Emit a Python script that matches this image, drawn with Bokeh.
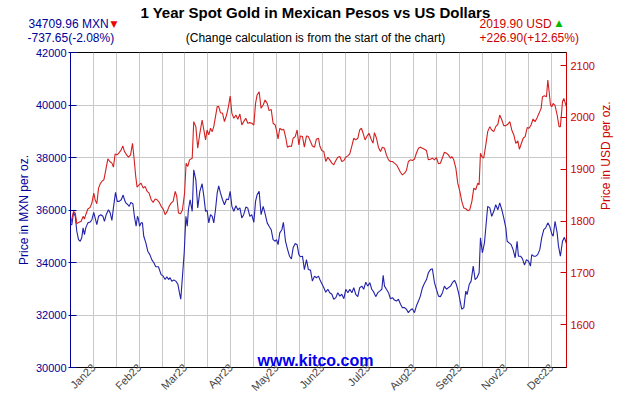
import math
from bokeh.plotting import figure
from bokeh.layouts import column
from bokeh.models import Range1d, FixedTicker, Label, LinearAxis
from bokeh.core.properties import value
from bokeh.embed import file_html
from bokeh.resources import INLINE

# ---- data (trading-day index, price) ----
mxn_day = [0, 0.7, 1.6, 2.5, 3.3, 4.2, 5.1, 5.9, 6.6, 7.3, 8.0, 9.1, 10.3, 11.2, 12.2, 12.9, 13.8, 14.7, 15.9, 17.0,
           17.8, 18.7, 19.9, 20.8, 21.7, 22.5, 23.6, 24.5, 25.5, 26.6, 27.6, 28.3, 29.0, 30.1, 30.8, 31.6, 32.7, 33.5,
           34.4, 35.1, 35.6, 36.2, 37.0, 37.7, 38.4, 39.5, 40.5, 41.6, 42.6, 43.7, 44.7, 46.1, 47.5, 48.6, 49.6, 50.5,
           51.4, 52.2, 53.1, 54.2, 55.2, 56.3, 57.1, 57.8, 58.7, 59.6, 60.5, 61.2, 61.8, 62.7, 63.8, 64.6, 65.7, 66.7,
           67.8, 69.0, 69.9, 70.8, 71.6, 72.5, 73.4, 74.3, 75.1, 76.0, 76.9, 77.7, 78.6, 79.7, 80.7, 81.8, 82.8, 83.7,
           84.6, 85.6, 86.7, 87.7, 88.8, 89.8, 90.8, 91.9, 92.9, 94.0, 95.0, 96.1, 97.0, 97.8, 98.9, 99.9, 101.0, 102.0,
           103.1, 104.1, 105.2, 106.2, 107.3, 108.0, 108.8, 109.7, 110.8, 111.6, 112.7, 113.7, 114.8, 115.8, 116.7,
           117.8, 118.8, 119.7, 120.5, 121.6, 122.6, 123.7, 124.7, 125.8, 126.8, 127.9, 128.9, 130.0, 130.7, 131.7,
           132.8, 133.8, 134.9, 135.9, 137.0, 138.0, 139.1, 140.1, 141.2, 142.2, 143.3, 144.3, 145.4, 146.4, 147.5,
           148.5, 149.5, 150.6, 151.6, 152.7, 153.7, 154.8, 155.8, 156.9, 157.9, 159.0, 160.0, 161.1, 162.1, 163.2,
           163.9, 164.6, 165.6, 166.7, 167.7, 168.8, 169.8, 170.9, 171.9, 173.0, 174.0, 175.1, 176.1, 177.1, 178.2,
           179.2, 180.3, 181.3, 182.4, 183.4, 184.5, 185.5, 186.6, 187.6, 188.7, 189.7, 190.8, 191.8, 192.9, 193.9,
           195.0, 196.0, 197.1, 198.1, 199.2, 200.2, 201.3, 202.3, 203.4, 204.4, 205.1, 206.2, 207.2, 207.9, 209.0,
           210.0, 211.1, 212.1, 213.1, 214.2, 214.9, 215.9, 217.0, 218.0, 218.7, 219.8, 220.8, 221.9, 222.9, 224.0,
           225.0, 226.1, 227.1, 228.2, 228.9, 229.9, 231.0, 232.0, 233.1, 234.1, 234.8, 235.9, 236.9, 238.0, 239.0,
           240.1, 241.1, 241.8, 242.8, 243.9, 244.9, 246.0, 247.0, 248.1, 249.1, 250.2, 251.2, 252.3, 253.0, 254.0,
           255.1, 255.8, 256.8, 257.9, 258.9, 260.0]
mxn_price = [35448, 35440, 35910, 35760, 35190, 34870, 34810, 34940, 35320, 35060, 35320, 35510, 35540, 35630, 35910,
             35700, 35440, 35760, 35820, 35760, 35570, 35820, 36010, 35890, 35600, 36080, 36670, 36330, 36330, 36390,
             36570, 36390, 36270, 36200, 36140, 36290, 36240, 35760, 35380, 35760, 35660, 35380, 35510, 35510, 35000,
             34750, 34430, 34300, 34110, 33990, 33840, 33840, 33540, 33480, 33350, 33460, 33350, 33420, 33290, 33330,
             33290, 33170, 32850, 32600, 33480, 34370, 35760, 35380, 36010, 36390, 35950, 37530, 37150, 36080, 36710,
             37000, 36520, 35950, 35990, 35510, 35820, 35760, 35510, 36010, 36650, 36920, 36650, 36390, 36200, 36420,
             36390, 36710, 36140, 35950, 36160, 36010, 36080, 35700, 35820, 36110, 36080, 35760, 35820, 35530, 36330,
             36580, 36710, 35820, 36140, 35860, 35510, 35380, 35250, 34870, 34810, 34870, 34680, 35130, 35250, 35530,
             34810, 34520, 34240, 34140, 34560, 34720, 34680, 34300, 34220, 34240, 33730, 34110, 33730, 33710, 33290,
             33480, 33420, 33480, 33350, 33200, 33040, 32870, 32980, 32850, 32790, 32600, 32660, 32850, 32720, 32790,
             32620, 32980, 32850, 32980, 32850, 33040, 32790, 32700, 33040, 33100, 32980, 33250, 33100, 33230, 32980,
             32870, 32700, 32850, 32910, 32980, 33510, 33100, 32980, 32850, 32620, 32660, 32570, 32530, 32600, 32410,
             32280, 32280, 32220, 32090, 32190, 32240, 32090, 32340, 32530, 32720, 33040, 33200, 33350, 33610, 33730,
             33760, 33230, 32980, 32720, 32700, 32850, 33100, 32980, 33040, 33100, 33230, 33320, 33160, 32850, 32470,
             32220, 32280, 32910, 32780, 33160, 33290, 33860, 33350, 33420, 33610, 34940, 34370, 34750, 35570, 36140,
             36080, 35760, 35950, 36200, 36010, 36270, 36010, 35700, 35320, 34810, 34750, 34680, 34490, 34180, 34810,
             34240, 34240, 34150, 33900, 34110, 34050, 33860, 34300, 34240, 34240, 34300, 34490, 34940, 35250, 35320,
             35510, 35380, 35090, 35000, 35570, 35130, 34620, 34240, 34810, 34960, 34709.96]

usd_day = [0, 1.6, 2.5, 3.3, 4.5, 5.6, 6.6, 7.3, 8.0, 9.1, 10.3, 11.2, 12.2, 12.9, 13.8, 14.7, 15.6, 16.4, 17.5, 18.5,
           19.6, 20.6, 21.7, 22.5, 23.4, 24.5, 25.5, 26.6, 27.4, 28.3, 29.4, 30.4, 31.5, 32.5, 33.4, 34.2, 34.9, 36.0,
           37.0, 38.1, 39.1, 40.2, 41.2, 42.3, 43.3, 44.4, 45.4, 46.5, 47.5, 48.6, 49.6, 50.7, 51.7, 52.8, 53.8, 54.9,
           55.7, 56.6, 57.7, 58.7, 59.8, 60.6, 61.5, 62.4, 63.8, 64.6, 65.7, 66.7, 67.8, 69.0, 69.9, 70.8, 71.6, 72.5,
           73.4, 74.3, 75.1, 76.0, 76.9, 77.7, 78.6, 79.7, 80.7, 81.8, 82.8, 83.7, 84.6, 85.6, 86.7, 87.7, 88.8, 89.8,
           90.8, 91.9, 92.9, 94.0, 95.0, 96.1, 97.0, 97.8, 98.9, 99.9, 101.0, 102.0, 103.1, 104.1, 105.2, 106.2, 107.3,
           108.0, 108.8, 109.7, 110.8, 111.8, 112.9, 113.7, 114.8, 115.8, 116.7, 117.8, 118.8, 119.7, 120.5, 121.6,
           122.6, 123.7, 124.7, 125.8, 126.8, 127.9, 128.9, 130.0, 130.7, 131.7, 132.8, 133.8, 134.9, 135.9, 137.0,
           138.0, 139.1, 140.1, 141.2, 142.2, 143.3, 144.3, 145.4, 146.4, 147.5, 148.5, 149.5, 150.6, 151.6, 152.5,
           153.4, 154.4, 155.5, 156.5, 157.6, 158.6, 159.3, 160.4, 161.4, 162.5, 163.5, 164.6, 165.6, 166.7, 167.7,
           168.8, 169.8, 170.9, 171.9, 173.0, 174.0, 175.1, 176.1, 177.1, 178.2, 179.2, 180.3, 181.3, 182.4, 183.4,
           184.5, 185.5, 186.6, 187.6, 188.7, 189.7, 190.8, 191.8, 192.9, 193.9, 195.0, 196.0, 197.1, 198.1, 199.2,
           199.9, 200.9, 202.0, 203.0, 204.1, 205.1, 206.2, 207.2, 208.3, 209.3, 210.4, 211.4, 212.4, 213.5, 214.2,
           214.9, 215.6, 216.6, 217.7, 218.7, 219.8, 220.8, 221.9, 222.9, 224.0, 225.0, 226.1, 227.1, 228.2, 229.2,
           230.3, 231.3, 232.4, 233.4, 234.5, 235.3, 236.2, 237.3, 238.3, 239.4, 240.4, 241.4, 242.5, 243.5, 244.6,
           245.6, 246.7, 247.4, 248.4, 249.5, 250.2, 250.9, 251.6, 252.3, 253.0, 254.0, 255.1, 256.1, 256.8, 257.9,
           258.6, 260.0]
usd_price = [1793.0, 1818.6, 1815.4, 1794.9, 1797.4, 1799.4, 1809.0, 1803.9, 1812.2, 1823.1, 1826.3, 1834.7, 1853.9,
             1841.1, 1833.4, 1863.5, 1871.9, 1876.4, 1879.6, 1898.8, 1920.0, 1914.9, 1911.7, 1904.0, 1929.6, 1927.7,
             1932.2, 1937.3, 1945.0, 1934.1, 1927.7, 1923.2, 1927.7, 1950.2, 1918.1, 1886.0, 1865.5, 1870.0, 1873.2,
             1863.5, 1866.8, 1857.1, 1853.9, 1841.1, 1836.0, 1842.4, 1841.1, 1836.0, 1828.3, 1823.1, 1812.2, 1818.6,
             1828.3, 1834.7, 1837.9, 1857.1, 1847.5, 1815.4, 1814.1, 1821.8, 1853.9, 1911.7, 1905.3, 1918.1, 1921.3,
             1991.9, 1982.3, 1940.5, 1969.4, 1995.1, 1975.8, 1956.6, 1975.8, 1966.2, 1979.1, 1972.6, 1982.3, 2001.5,
             2020.8, 2020.8, 2009.2, 2007.9, 1991.9, 2004.7, 2020.8, 2041.3, 2007.9, 1998.3, 2004.7, 1996.4, 2006.6,
             1985.5, 1991.9, 1998.3, 1988.7, 1990.0, 1988.7, 1985.5, 2027.2, 2043.2, 2049.6, 2017.6, 2024.0, 2033.6,
             2027.2, 2013.1, 2015.6, 1988.7, 1985.5, 1974.6, 1958.5, 1979.1, 1975.8, 1977.1, 1959.8, 1942.5, 1945.0,
             1943.8, 1959.8, 1963.0, 1975.8, 1947.0, 1964.3, 1963.0, 1942.5, 1964.3, 1963.0, 1953.4, 1945.0, 1942.5,
             1957.9, 1959.8, 1945.0, 1936.1, 1934.1, 1914.9, 1923.2, 1918.1, 1911.7, 1908.5, 1916.8, 1923.2, 1924.5,
             1914.9, 1916.8, 1923.2, 1925.8, 1929.6, 1945.0, 1959.8, 1956.6, 1959.8, 1975.8, 1979.1, 1969.4, 1956.6,
             1964.3, 1969.4, 1957.9, 1950.2, 1970.7, 1959.8, 1942.5, 1934.1, 1942.5, 1940.5, 1927.7, 1918.1, 1914.9,
             1914.9, 1911.7, 1908.5, 1902.0, 1893.7, 1889.2, 1892.4, 1897.6, 1914.9, 1918.1, 1916.8, 1919.4, 1930.9,
             1940.5, 1942.5, 1940.5, 1938.6, 1936.1, 1918.1, 1919.4, 1921.3, 1918.1, 1922.6, 1910.4, 1911.6, 1922.6,
             1932.8, 1930.9, 1927.7, 1921.3, 1924.5, 1918.1, 1902.0, 1873.1, 1857.1, 1837.9, 1825.0, 1823.7, 1819.9,
             1821.8, 1837.9, 1863.5, 1860.3, 1873.1, 1869.9, 1930.9, 1924.5, 1921.3, 1946.9, 1972.6, 1982.2, 1975.8,
             1972.6, 1982.2, 1986.7, 2004.7, 1995.1, 1984.2, 1984.2, 1986.7, 1991.9, 1975.8, 1966.2, 1950.1, 1954.6,
             1938.6, 1948.2, 1959.8, 1963.0, 1980.3, 1979.0, 1985.4, 1997.0, 1991.9, 1999.6, 2007.9, 2017.5, 2040.0,
             2041.9, 2040.0, 2072.1, 2049.6, 2023.9, 2020.7, 2027.2, 2022.7, 2004.7, 1982.2, 1982.2, 2030.4, 2036.8,
             2019.9]

x_tick_labels = ["Jan23", "Feb23", "Mar23", "Apr23", "May23", "Jun23", "Jul23", "Aug23", "Sep23", "Nov23", "Dec23"]
mxn_ticks = [30000, 32000, 34000, 36000, 38000, 40000, 42000]
usd_ticks = [1600, 1700, 1800, 1900, 2000, 2100]

title_text = "1 Year Spot Gold in Mexican Pesos vs US Dollars"
subtitle_text = "(Change calculation is from the start of the chart)"
mxn_last, mxn_change = "34709.96 MXN", "-737.65(-2.08%)"
usd_last, usd_change = "2019.90 USD", "+226.90(+12.65%)"

# ---- styles ----
BLUE_AX = "#000099"
BLUE_LN = "#2222aa"
RED_AX = "#cc0000"
RED_LN = "#d42020"
GRID = "#c8c8c8"
FONT = "Liberation Sans"
HEAD_H = 48

# ---------------- header (title and change texts) ----------------
head = figure(width=630, height=HEAD_H, output_backend="svg", toolbar_location=None,
              x_range=Range1d(0, 630), y_range=Range1d(HEAD_H, 0),
              x_axis_type=None, y_axis_type=None,
              min_border_left=0, min_border_right=0, min_border_top=0, min_border_bottom=0)
head.outline_line_color = None
head.grid.visible = False
try:
    head.frame_align = False
except Exception:
    pass


def htext(text, x, y, color, size, align="left", bold=False, font=FONT):
    head.text(x=[x], y=[y], text=[text], text_color=color, text_font=value(font),
              text_font_size=f"{size}px", text_font_style="bold" if bold else "normal",
              text_align=align, text_baseline="middle")


htext(title_text, 315, 12, "black", 15, align="center", bold=True)
htext(subtitle_text, 315, 37, "black", 12, align="center")
htext(mxn_last, 28, 23, BLUE_AX, 12)
htext("\u25BC", 110, 23, "#ee0000", 9, font="DejaVu Sans")
htext(mxn_change, 27, 37, BLUE_AX, 12)
htext(usd_last, 479, 23, RED_AX, 12)
htext("\u25B2", 555, 22, "#00bb00", 9, font="DejaVu Sans")
htext(usd_change, 479, 37, RED_AX, 12)

# ---------------- main chart ----------------
grid_ticks = [12 * (i + 1) for i in range(21)]
overrides = {}
for i, t in enumerate(grid_ticks):
    overrides[t] = x_tick_labels[i // 2] if i % 2 == 0 else ""

p = figure(width=630, height=400 - HEAD_H, output_backend="svg", toolbar_location=None,
           x_range=Range1d(0, 260), y_range=Range1d(30000, 42000),
           min_border_left=70, min_border_right=64, min_border_top=52 - HEAD_H, min_border_bottom=32)
p.outline_line_color = "black"
p.extra_y_ranges = {"usd": Range1d(1517.1, 2125.4)}
try:
    p.frame_align = False
except Exception:
    pass

p.line(mxn_day, mxn_price, line_color=BLUE_LN, line_width=1.1)
p.line(usd_day, usd_price, line_color=RED_LN, line_width=1.1, y_range_name="usd")

xa = p.xaxis[0]
xa.ticker = FixedTicker(ticks=grid_ticks)
xa.major_label_overrides = overrides
xa.major_label_orientation = math.pi / 4
xa.major_label_text_font = FONT
xa.major_label_text_font_size = "11px"
xa.major_label_text_color = "#444444"
xa.major_label_standoff = -2
xa.major_tick_in = 0
xa.major_tick_out = 0
xa.major_tick_line_color = None
xa.minor_tick_line_color = None
xa.axis_line_color = "black"

ya = p.yaxis[0]
ya.ticker = FixedTicker(ticks=mxn_ticks)
ya.axis_line_color = BLUE_AX
ya.major_tick_line_color = BLUE_AX
ya.major_tick_in = 6
ya.major_tick_out = 2
ya.minor_tick_line_color = None
ya.major_label_text_color = BLUE_AX
ya.major_label_text_font = FONT
ya.major_label_text_font_size = "11px"
ya.major_label_standoff = 2
ya.axis_label = "Price in MXN per oz."
ya.axis_label_text_color = BLUE_AX
ya.axis_label_text_font = FONT
ya.axis_label_text_font_size = "12px"
ya.axis_label_text_font_style = "normal"
ya.axis_label_standoff = 2

ra = LinearAxis(y_range_name="usd", ticker=FixedTicker(ticks=usd_ticks))
ra.axis_line_color = RED_AX
ra.major_tick_line_color = RED_AX
ra.major_tick_in = 6
ra.major_tick_out = 0
ra.minor_tick_line_color = None
ra.major_label_text_color = RED_AX
ra.major_label_text_font = FONT
ra.major_label_text_font_size = "11px"
ra.major_label_standoff = 4
ra.axis_label = "Price in USD per oz."
ra.axis_label_text_color = RED_AX
ra.axis_label_text_font = FONT
ra.axis_label_text_font_size = "12px"
ra.axis_label_text_font_style = "normal"
ra.axis_label_standoff = 8
try:
    ra.axis_label_orientation = math.pi / 2
except Exception:
    pass
p.add_layout(ra, "right")

p.xgrid.ticker = FixedTicker(ticks=grid_ticks)
p.ygrid.ticker = FixedTicker(ticks=mxn_ticks)
p.xgrid.grid_line_color = GRID
p.ygrid.grid_line_color = GRID

# watermark inside the frame (frame-relative screen units)
p.add_layout(Label(x=245, y=7, x_units="screen", y_units="screen", text="www.kitco.com",
                   text_color="#0000ee", text_font=FONT, text_font_size="16px",
                   text_font_style="bold", text_align="center", text_baseline="middle"))

layout = column(head, p, spacing=0)
open("out.html", "w").write(file_html(layout, INLINE))
